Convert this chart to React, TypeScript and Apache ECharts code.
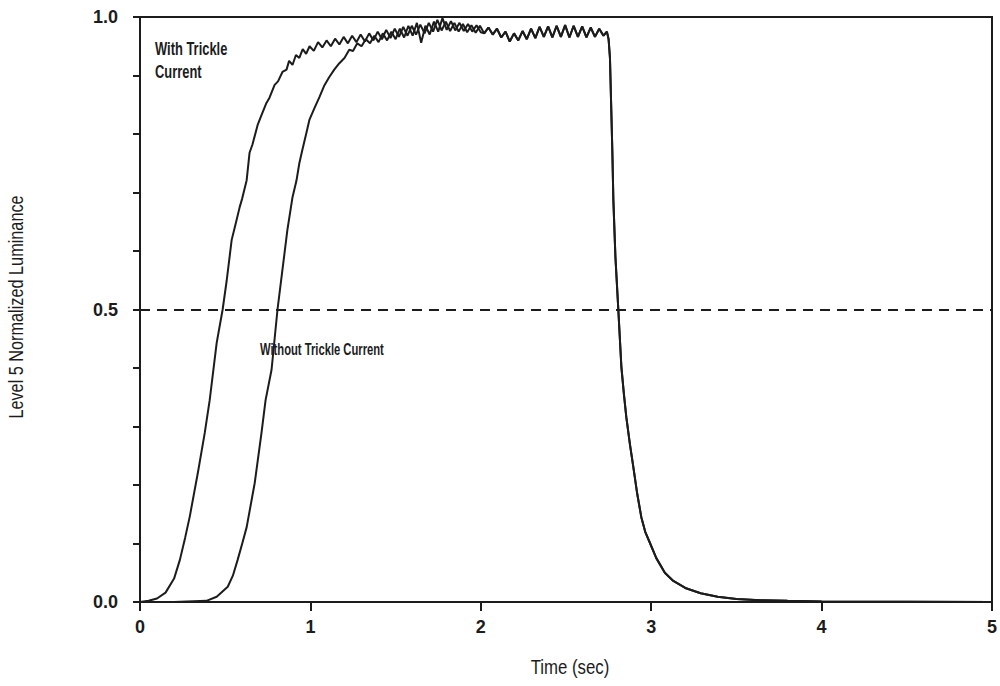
import React, { useEffect, useRef } from "react";
import * as echarts from "echarts";

// Time (sec), normalized luminance
const withTrickleRise: [number, number][] = [
  [0, 0], [0.05, 0.002], [0.1, 0.006], [0.15, 0.016], [0.2, 0.04], [0.234, 0.072],
  [0.265, 0.11], [0.292, 0.146], [0.339, 0.22], [0.38, 0.289], [0.409, 0.345],
  [0.45, 0.443], [0.485, 0.5], [0.509, 0.55], [0.538, 0.619], [0.56, 0.645],
  [0.585, 0.675], [0.6, 0.69], [0.626, 0.721], [0.643, 0.768], [0.66, 0.782],
  [0.69, 0.815], [0.71, 0.83], [0.742, 0.853], [0.76, 0.862], [0.79, 0.884],
  [0.81, 0.89], [0.836, 0.906], [0.86, 0.91], [0.875, 0.925], [0.895, 0.918],
  [0.915, 0.935], [0.935, 0.93], [0.955, 0.945], [0.975, 0.937], [0.995, 0.95],
  [1.02, 0.942], [1.045, 0.957], [1.07, 0.948], [1.095, 0.96], [1.12, 0.95],
  [1.145, 0.963], [1.17, 0.953], [1.195, 0.966], [1.22, 0.955], [1.245, 0.968],
  [1.27, 0.957], [1.295, 0.97], [1.32, 0.958], [1.345, 0.972], [1.37, 0.96],
  [1.395, 0.975], [1.42, 0.962], [1.445, 0.978], [1.47, 0.964], [1.495, 0.98],
  [1.52, 0.966], [1.545, 0.983], [1.57, 0.968], [1.595, 0.985], [1.62, 0.97],
  [1.645, 0.987], [1.67, 0.972], [1.695, 0.99], [1.72, 0.975], [1.745, 0.995],
  [1.77, 0.977], [1.795, 0.992], [1.82, 0.976], [1.845, 0.99], [1.87, 0.975],
  [1.895, 0.988], [1.92, 0.974], [1.945, 0.986], [1.97, 0.973], [1.995, 0.985],
];

const withoutTrickleRise: [number, number][] = [
  [0, 0], [0.2, 0.0], [0.39, 0.002], [0.45, 0.009], [0.515, 0.026], [0.545, 0.045],
  [0.573, 0.072], [0.6, 0.1], [0.626, 0.128], [0.673, 0.203], [0.713, 0.289],
  [0.737, 0.345], [0.772, 0.397], [0.807, 0.5], [0.836, 0.568], [0.865, 0.636],
  [0.895, 0.692], [0.918, 0.72], [0.935, 0.75], [0.953, 0.773], [0.975, 0.8],
  [0.994, 0.824], [1.025, 0.845], [1.053, 0.863], [1.08, 0.882], [1.11, 0.897],
  [1.14, 0.91], [1.17, 0.921], [1.2, 0.93], [1.228, 0.944], [1.25, 0.942],
  [1.275, 0.955], [1.3, 0.95], [1.325, 0.962], [1.35, 0.955], [1.375, 0.968],
  [1.4, 0.957], [1.425, 0.972], [1.45, 0.96], [1.475, 0.975], [1.5, 0.962],
  [1.525, 0.98], [1.55, 0.965], [1.575, 0.985], [1.6, 0.968], [1.625, 0.99],
  [1.65, 0.956], [1.675, 0.985], [1.7, 0.97], [1.725, 0.992], [1.75, 0.975],
  [1.775, 0.998], [1.8, 0.978], [1.825, 0.993], [1.85, 0.977], [1.875, 0.99],
  [1.9, 0.976], [1.925, 0.988], [1.95, 0.975], [1.975, 0.986], [2.0, 0.974],
];

// Plateau and decay shared by both curves after ~2 s
const sharedTail: [number, number][] = [
  [2.02, 0.972], [2.045, 0.982], [2.07, 0.97], [2.095, 0.98], [2.12, 0.965],
  [2.145, 0.975], [2.17, 0.958], [2.195, 0.972], [2.22, 0.96], [2.245, 0.976],
  [2.27, 0.962], [2.295, 0.98], [2.32, 0.964], [2.345, 0.983], [2.37, 0.966],
  [2.395, 0.984], [2.42, 0.965], [2.445, 0.985], [2.47, 0.966], [2.495, 0.986],
  [2.52, 0.965], [2.545, 0.985], [2.57, 0.966], [2.595, 0.984], [2.62, 0.965],
  [2.645, 0.982], [2.67, 0.966], [2.695, 0.98], [2.72, 0.968], [2.74, 0.975],
  [2.75, 0.962], [2.758, 0.93], [2.765, 0.85], [2.772, 0.77], [2.778, 0.687],
  [2.79, 0.59], [2.807, 0.5], [2.825, 0.402], [2.84, 0.355], [2.854, 0.316],
  [2.875, 0.27], [2.895, 0.231], [2.918, 0.185], [2.942, 0.145], [2.965, 0.12],
  [2.994, 0.1], [3.03, 0.075], [3.08, 0.05], [3.13, 0.036], [3.2, 0.024],
  [3.29, 0.015], [3.39, 0.009], [3.5, 0.005], [3.64, 0.003], [3.8, 0.002],
  [4.0, 0.001], [5.0, 0.0],
];

const yLabelValues = [0, 0.5, 1.0];
const referenceLevel = 0.5;

const FONT = "'Liberation Sans', Arial, sans-serif";
const INK = "#1c1c1c";

export default function App() {
  const ref = useRef<HTMLDivElement>(null);
  useEffect(() => {
    const chart = echarts.init(ref.current!, null, { renderer: "svg" });
    const lineStyle = { color: INK, width: 2 };
    chart.setOption({
      animation: false,
      backgroundColor: "#ffffff",
      grid: {
        left: 140, right: 5, top: 17, bottom: 84,
        show: true, borderColor: INK, borderWidth: 2, backgroundColor: "transparent",
      },
      xAxis: {
        type: "value", min: 0, max: 5, interval: 1,
        axisLine: { show: true, lineStyle: { color: INK, width: 2 } },
        axisTick: { show: true, inside: false, length: 9, lineStyle: { color: INK, width: 2 } },
        axisLabel: { fontFamily: FONT, fontSize: 18, fontWeight: "bold", color: INK, margin: 16 },
        splitLine: { show: false },
      },
      yAxis: {
        type: "value", min: 0, max: 1, interval: 0.1,
        axisLine: { show: true, lineStyle: { color: INK, width: 2 } },
        axisTick: { show: true, inside: false, length: 7, lineStyle: { color: INK, width: 2 } },
        axisLabel: {
          fontFamily: FONT, fontSize: 18, fontWeight: "bold", color: INK, margin: 22,
          formatter: (v: number) =>
            yLabelValues.some((t) => Math.abs(t - v) < 1e-6) ? v.toFixed(1) : "",
        },
        splitLine: { show: false },
      },
      series: [
        {
          name: "With Trickle Current", type: "line", showSymbol: false,
          data: [...withTrickleRise, ...sharedTail], lineStyle,
          markLine: {
            silent: true, symbol: "none", label: { show: false },
            lineStyle: { color: INK, width: 2, type: [10, 7] },
            data: [{ yAxis: referenceLevel }],
          },
        },
        {
          name: "Without Trickle Current", type: "line", showSymbol: false,
          data: [...withoutTrickleRise, ...sharedTail], lineStyle,
        },
      ],
      graphic: [
        {
          type: "text", x: 570, y: 667, scaleX: 0.8,
          style: { text: "Time (sec)", fontFamily: FONT, fontSize: 21, fill: INK, align: "center", verticalAlign: "middle" },
        },
        {
          type: "text", x: 16, y: 307, rotation: Math.PI / 2, scaleX: 0.775,
          style: { text: "Level 5 Normalized Luminance", fontFamily: FONT, fontSize: 21, fill: INK, align: "center", verticalAlign: "middle" },
        },
        {
          type: "text", x: 155, y: 36, scaleX: 0.68,
          style: { text: "With Trickle\nCurrent", fontFamily: FONT, fontSize: 19, fontWeight: "bold", fill: INK, lineHeight: 23 },
        },
        {
          type: "text", x: 260, y: 341, scaleX: 0.66,
          style: { text: "Without Trickle Current", fontFamily: FONT, fontSize: 17, fontWeight: "bold", fill: INK },
        },
      ],
    });
    return () => chart.dispose();
  }, []);
  return (
    <div
      ref={ref}
      style={{ position: "absolute", left: 0, top: 0, width: 1000, height: 686, background: "#fff" }}
    />
  );
}
